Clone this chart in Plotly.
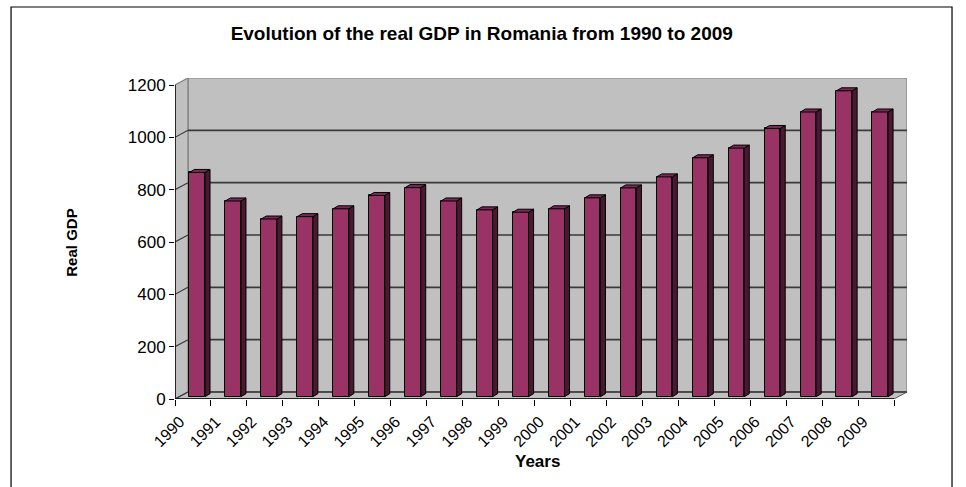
import plotly.graph_objects as go

# ---- data ----
years = ["1990", "1991", "1992", "1993", "1994", "1995", "1996", "1997", "1998", "1999",
         "2000", "2001", "2002", "2003", "2004", "2005", "2006", "2007", "2008", "2009"]
real_gdp = [857, 748, 679, 688, 718, 769, 799, 748, 714, 705,
            718, 760, 798, 840, 913, 950, 1025, 1088, 1169, 1088]
y_ticks = [0, 200, 400, 600, 800, 1000, 1200]
title_text = "Evolution of the real GDP in Romania from 1990 to 2009"
x_title = "Years"
y_title = "Real GDP"

# ---- 3D look parameters (oblique projection, in axis units) ----
N = len(years)
YMAX = 1200
DX, DY = 0.3616, 26.75          # wall depth offset
B0 = 8.8                         # bar base plane height offset
BX0, BW = 0.40, 0.435            # bar front-face start & width within a category
SDX, SDY = 0.139, 11.5           # bar depth offset

FRONT = "#993366"
SIDE = "#4a1833"
TOP = "#7a2a55"
WALL = "#c0c0c0"
GRID = "#3a3a3a"
FONT = "Liberation Sans, Arial, sans-serif"

shapes = []
# back wall
shapes.append(dict(type="rect", xref="x", yref="y", x0=DX, x1=N + DX, y0=DY, y1=YMAX + DY,
                   fillcolor=WALL, line=dict(color="#808080", width=1.2), layer="below"))
# left side wall
shapes.append(dict(type="path", xref="x", yref="y",
                   path=f"M 0 0 L {DX} {DY} L {DX} {YMAX+DY} L 0 {YMAX} Z",
                   fillcolor=WALL, line=dict(color="#808080", width=1.2), layer="below"))
# floor
shapes.append(dict(type="path", xref="x", yref="y",
                   path=f"M 0 0 L {N} 0 L {N+DX} {DY} L {DX} {DY} Z",
                   fillcolor=WALL, line=dict(color="#5a5a5a", width=1), layer="below"))
# gridlines
for v in y_ticks:
    if v == YMAX:
        continue
    shapes.append(dict(type="line", xref="x", yref="y", x0=DX, x1=N + DX, y0=v + DY, y1=v + DY,
                       line=dict(color=GRID, width=1.6), layer="below"))
    shapes.append(dict(type="line", xref="x", yref="y", x0=0, x1=DX, y0=v, y1=v + DY,
                       line=dict(color=GRID, width=1.2), layer="below"))
# front axes
shapes.append(dict(type="line", xref="x", yref="y", x0=0, x1=0, y0=0, y1=YMAX,
                   line=dict(color="black", width=1.5), layer="above"))
shapes.append(dict(type="line", xref="x", yref="y", x0=0, x1=N, y0=0, y1=0,
                   line=dict(color="black", width=1.5), layer="above"))

# bar side and top faces, computed from the data
for i, v in enumerate(real_gdp):
    x0 = i + BX0
    x1 = x0 + BW
    yt = B0 + v
    shapes.append(dict(type="path", xref="x", yref="y",
                       path=f"M {x1} {B0} L {x1+SDX} {B0+SDY} L {x1+SDX} {yt+SDY} L {x1} {yt} Z",
                       fillcolor=SIDE, line=dict(color="black", width=1), layer="above"))
    shapes.append(dict(type="path", xref="x", yref="y",
                       path=f"M {x0} {yt} L {x1} {yt} L {x1+SDX} {yt+SDY} L {x0+SDX} {yt+SDY} Z",
                       fillcolor=TOP, line=dict(color="black", width=1), layer="above"))

# outer chart frame
shapes.append(dict(type="rect", xref="paper", yref="paper", x0=-0.224, x1=1.0615, y0=-0.35, y1=1.2212,
                   line=dict(color="black", width=1.2), fillcolor="rgba(0,0,0,0)", layer="below"))

fig = go.Figure()
fig.add_trace(go.Bar(
    x=[i + BX0 + BW / 2 for i in range(N)],
    y=real_gdp,
    base=B0,
    width=BW,
    marker=dict(color=FRONT, line=dict(color="black", width=1)),
    hoverinfo="skip",
    showlegend=False,
))

fig.update_layout(
    width=966, height=487,
    margin=dict(l=175, r=59, t=78, b=88),
    paper_bgcolor="white", plot_bgcolor="white",
    font=dict(family=FONT, color="black"),
    title=dict(text=f"<b>{title_text}</b>", x=0.4987, xref="container", xanchor="center",
               y=0.932, yref="container", yanchor="middle",
               font=dict(size=19, family=FONT, color="black")),
    xaxis=dict(range=[0, N + DX], tickvals=list(range(N + 1)), ticktext=years + [""],
               tickangle=-45, ticks="outside", ticklen=6, tickcolor="black", tickwidth=1,
               showgrid=False, zeroline=False, showline=False, ticklabelshift=5,
               tickfont=dict(size=16, family=FONT, color="black"), fixedrange=True),
    yaxis=dict(range=[0, YMAX + DY], tickvals=y_ticks, ticks="outside", ticklen=5,
               tickcolor="black", tickwidth=1, showgrid=False, zeroline=False, showline=False,
               tickfont=dict(size=17, family=FONT, color="black"), fixedrange=True),
    shapes=shapes,
    annotations=[
        dict(text=f"<b>{y_title}</b>", xref="paper", yref="paper", x=-0.1411, y=0.486,
             textangle=-90, showarrow=False, xanchor="center", yanchor="middle",
             font=dict(size=15, family=FONT, color="black")),
        dict(text=f"<b>{x_title}</b>", xref="paper", yref="paper", x=0.4952, y=-0.1953,
             showarrow=False, xanchor="center", yanchor="middle",
             font=dict(size=17, family=FONT, color="black")),
    ],
    bargap=0,
)

fig.write_html("out.html")
